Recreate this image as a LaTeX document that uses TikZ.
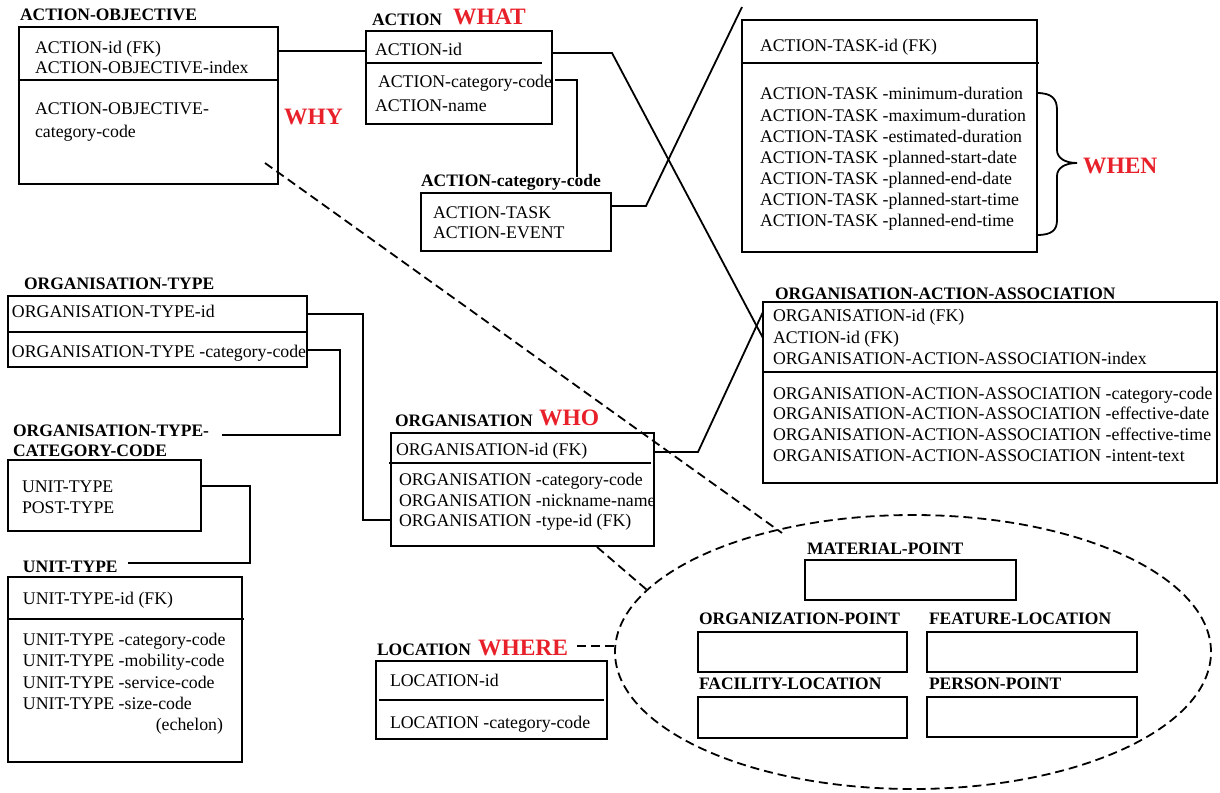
\documentclass[tikz,border=0pt]{standalone}
\usepackage{fontspec}
\setmainfont{Liberation Serif}
\usetikzlibrary{shapes.geometric}
\definecolor{askred}{RGB}{232,32,42}

% entity box: name, left, top, right, bottom (pixel-like units, y downwards)
\newcommand\entitybox[5]{%
  \node[tbl, minimum width={#4-#2}, minimum height={#5-#3}] (#1) at (#2,#3) {};}
% attribute line: name, left x, middle y, text
\newcommand\field[4]{\node[fld] (#1) at (#2,#3+6) {#4};}
% entity title: name, left x, middle y, text
\newcommand\entitytitle[4]{\node[ttl] (#1) at (#2,#3+6) {#4};}
% question word: name, left x, middle y, text
\newcommand\question[4]{\node[ask] (#1) at (#2,#3+8) {#4};}
% key / attribute separator: y, x from, x to
\newcommand\separator[3]{\draw[sep] (#2,#1) -- (#3,#1);}

\begin{document}
\begin{tikzpicture}[x=1pt,y=-1pt,
  every node/.style={inner sep=0pt, outer sep=0pt},
  tbl/.style={draw, line width=1.7pt, anchor=north west},
  fld/.style={anchor=base west, font=\fontsize{17.8}{20}\selectfont},
  ttl/.style={anchor=base west, font=\fontsize{17.5}{20}\selectfont\bfseries},
  ask/.style={anchor=base west, text=askred, font=\fontsize{23.5}{26}\selectfont\bfseries},
  sep/.style={line width=1.6pt},
  link/.style={line width=1.8pt},
  dlink/.style={line width=1.8pt, dash pattern=on 9pt off 5pt}]
\useasboundingbox (0,0) rectangle (1220,792);

% ---------------- ACTION-OBJECTIVE
\entitytitle{taobj}{20}{15}{ACTION-OBJECTIVE}
\entitybox{aobj}{19}{27}{278}{184}
\separator{80}{19}{278}
\field{aobj1}{35}{47}{ACTION-id (FK)}
\field{aobj2}{35}{68}{ACTION-OBJECTIVE-index}
\field{aobj3}{35}{108}{ACTION-OBJECTIVE-}
\field{aobj4}{35}{131}{category-code}
\question{qwhy}{284}{116}{WHY}

% ---------------- ACTION
\entitytitle{tact}{372}{20}{ACTION}
\question{qwhat}{453}{17}{WHAT}
\entitybox{action}{366}{31}{552}{124}
\separator{63}{366}{542}
\field{act1}{375}{50}{ACTION-id}
\field{act2}{378}{81}{ACTION-category-code}
\field{act3}{375}{105}{ACTION-name}

% ---------------- ACTION-category-code
\entitytitle{tacc}{421}{180}{ACTION-category-code}
\entitybox{acc}{421}{193}{611}{251}
\field{acc1}{433}{212}{ACTION-TASK}
\field{acc2}{433}{232}{ACTION-EVENT}

% ---------------- ACTION-TASK
\entitybox{atask}{742}{20}{1037}{252}
\separator{63}{742}{1039}
\field{at0}{760}{46}{ACTION-TASK-id (FK)}
\field{at1}{760}{93}{ACTION-TASK -minimum-duration}
\field{at2}{760}{115}{ACTION-TASK -maximum-duration}
\field{at3}{760}{136}{ACTION-TASK -estimated-duration}
\field{at4}{760}{157}{ACTION-TASK -planned-start-date}
\field{at5}{760}{178}{ACTION-TASK -planned-end-date}
\field{at6}{760}{199}{ACTION-TASK -planned-start-time}
\field{at7}{760}{220}{ACTION-TASK -planned-end-time}
\draw[link] (1037,93) .. controls (1052,93) and (1057,99) .. (1057,110)
  -- (1057,150) .. controls (1057,158) and (1065,163) .. (1077,163)
  .. controls (1065,163) and (1057,168) .. (1057,176)
  -- (1057,220) .. controls (1057,230) and (1052,235) .. (1037,235);
\question{qwhen}{1083}{165}{WHEN}

% ---------------- ORGANISATION-TYPE
\entitytitle{totype}{24}{283}{ORGANISATION-TYPE}
\entitybox{otype}{8}{296}{307}{367}
\separator{332}{8}{308}
\field{ot1}{12}{311}{ORGANISATION-TYPE-id}
\field{ot2}{12}{351}{ORGANISATION-TYPE -category-code}

% ---------------- ORGANISATION-TYPE-CATEGORY-CODE
\entitytitle{totcc1}{13}{430}{ORGANISATION-TYPE-}
\entitytitle{totcc2}{13}{450}{CATEGORY-CODE}
\entitybox{otcc}{8}{460}{201}{531}
\field{otcc1}{22}{486}{UNIT-TYPE}
\field{otcc2}{22}{507}{POST-TYPE}

% ---------------- UNIT-TYPE
\entitytitle{tutype}{23}{566}{UNIT-TYPE}
\entitybox{utype}{8}{577}{242}{762}
\separator{619}{8}{244}
\field{ut0}{23}{598}{UNIT-TYPE-id (FK)}
\field{ut1}{23}{639}{UNIT-TYPE -category-code}
\field{ut2}{23}{660}{UNIT-TYPE -mobility-code}
\field{ut3}{23}{682}{UNIT-TYPE -service-code}
\field{ut4}{23}{703}{UNIT-TYPE -size-code}
\node[fld, anchor=base east] (ut5) at (223,724+6) {(echelon)};

% ---------------- ORGANISATION
\entitytitle{torg}{395}{420}{ORGANISATION}
\question{qwho}{539}{417}{WHO}
\entitybox{org}{391}{433}{654}{546}
\separator{463}{389}{651}
\field{org0}{396}{449}{ORGANISATION-id (FK)}
\field{org1}{399}{479}{ORGANISATION -category-code}
\field{org2}{399}{500}{ORGANISATION -nickname-name}
\field{org3}{399}{520}{ORGANISATION -type-id (FK)}

% ---------------- ORGANISATION-ACTION-ASSOCIATION
\entitytitle{toaa}{775}{293}{ORGANISATION-ACTION-ASSOCIATION}
\entitybox{oaa}{763}{302}{1217}{483}
\separator{372}{763}{1217}
\field{oaa1}{773}{315}{ORGANISATION-id (FK)}
\field{oaa2}{773}{337}{ACTION-id (FK)}
\field{oaa3}{773}{358}{ORGANISATION-ACTION-ASSOCIATION-index}
\field{oaa4}{773}{393}{ORGANISATION-ACTION-ASSOCIATION -category-code}
\field{oaa5}{773}{413}{ORGANISATION-ACTION-ASSOCIATION -effective-date}
\field{oaa6}{773}{434}{ORGANISATION-ACTION-ASSOCIATION -effective-time}
\field{oaa7}{773}{455}{ORGANISATION-ACTION-ASSOCIATION -intent-text}

% ---------------- LOCATION
\entitytitle{tloc}{377}{649}{LOCATION}
\question{qwhere}{478}{647}{WHERE}
\entitybox{loc}{376}{661}{607}{739}
\separator{700}{379}{604}
\field{loc1}{390}{680}{LOCATION-id}
\field{loc2}{390}{722}{LOCATION -category-code}

% ---------------- location subtypes
\node[draw, ellipse, dlink, minimum width=596, minimum height=274] (locset) at (913,652) {};
\entitytitle{tmat}{807}{548}{MATERIAL-POINT}
\entitybox{mat}{805}{560}{1016}{600}
\entitytitle{torgp}{699}{618}{ORGANIZATION-POINT}
\entitybox{orgp}{698}{632}{907}{672}
\entitytitle{tfeat}{929}{618}{FEATURE-LOCATION}
\entitybox{feat}{927}{632}{1137}{672}
\entitytitle{tfac}{699}{683}{FACILITY-LOCATION}
\entitybox{fac}{698}{697}{907}{738}
\entitytitle{tpers}{929}{683}{PERSON-POINT}
\entitybox{pers}{927}{697}{1137}{737}

% ---------------- relationships
\coordinate (ya) at (0,51);
\draw[link] (aobj.east |- ya) -- (action.west |- ya);

\coordinate (kb) at (612,53);
\coordinate (yb) at (0,338);
\draw[link] (action.east |- kb) -- (kb) -- (oaa.west |- yb);

\coordinate (sc) at (555,80);
\coordinate (kc) at (577,80);
\coordinate (ec) at (577,177);
\draw[link] (sc) -- (kc) -- (ec);

\coordinate (kd) at (646,206);
\coordinate (ed) at (742,7);
\draw[link] (acc.east |- kd) -- (kd) -- (ed);

\coordinate (ke1) at (363,314);
\coordinate (ke2) at (363,520);
\draw[link] (otype.east |- ke1) -- (ke1) -- (ke2) -- (org.west |- ke2);

\coordinate (kf1) at (340,350);
\coordinate (kf2) at (340,435);
\coordinate (ef) at (222,435);
\draw[link] (otype.east |- kf1) -- (kf1) -- (kf2) -- (ef);

\coordinate (kg1) at (250,486);
\coordinate (kg2) at (250,563);
\coordinate (eg) at (128,563);
\draw[link] (otcc.east |- kg1) -- (kg1) -- (kg2) -- (eg);

\coordinate (kh) at (698,452);
\coordinate (yh) at (0,312);
\draw[link] (org.east |- kh) -- (kh) -- (oaa.west |- yh);

\coordinate (si) at (265,163);
\coordinate (ei) at (782,533);
\draw[dlink] (si) -- (ei);

\coordinate (sj) at (597,547);
\coordinate (ej) at (647,590);
\draw[dlink] (sj) -- (ej);

\coordinate (sk) at (577,646);
\draw[dlink] (sk) -- (locset.west |- sk);
\end{tikzpicture}
\end{document}
